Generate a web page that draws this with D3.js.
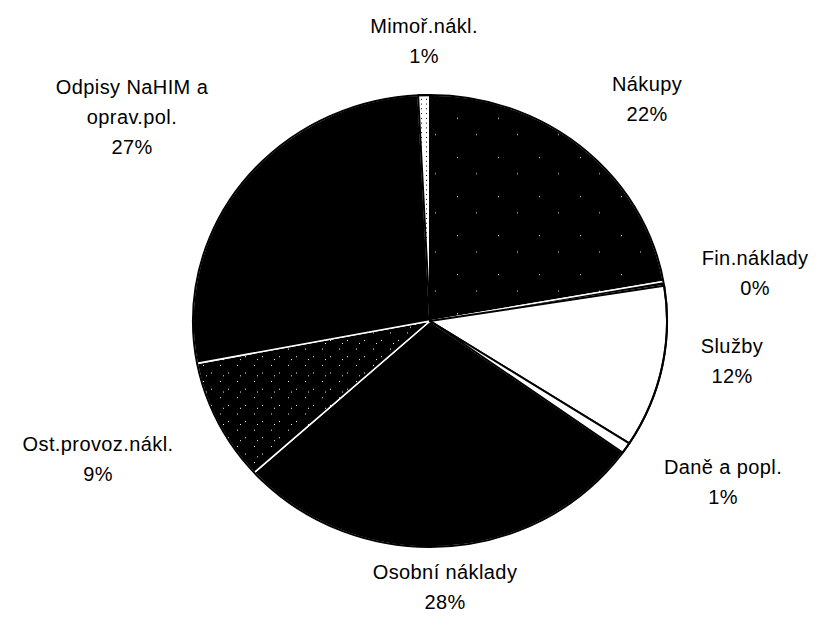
<!DOCTYPE html>
<html>
<head>
<meta charset="utf-8">
<style>
  body { margin: 0; background: #fff; }
  svg { display: block; }
</style>
</head>
<body>
<svg width="819" height="625"></svg>
<script src="https://d3js.org/d3.v7.min.js"></script>
<script>

// slices, clockwise from 12 o'clock (values in % of total costs)
var categories = ["Nákupy", "Fin.náklady", "Služby", "Daně a popl.", "Osobní náklady",
                  "Ost.provoz.nákl.", "Odpisy NaHIM a oprav.pol.", "Mimoř.nákl."];
var values = [22.2, 0.3, 11.6, 0.8, 28.4, 8.7, 27.2, 0.8];
var percentLabels = ["22%", "0%", "12%", "1%", "28%", "9%", "27%", "1%"];
var labelLines = [["Nákupy"], ["Fin.náklady"], ["Služby"], ["Daně a popl."], ["Osobní náklady"],
                  ["Ost.provoz.nákl."], ["Odpisy NaHIM a", "oprav.pol."], ["Mimoř.nákl."]];

var svg = d3.select("svg"),
    cx = 430, cy = 321,
    rx = 237, ry = 226;

// label anchors (centre of first line), layout only
var labelAt = [[647, 84], [755, 258], [732, 346], [723, 467], [445, 572],
               [98, 444], [132, 87], [424, 26]];
var lineStep = 30;

var fills = ["url(#sparse)", "#000", "#fff", "#fff", "#000", "url(#stipple)", "#000", "url(#light)"];

var defs = svg.append("defs");

function dotPattern(id, bg, dot, size, pts) {
  var p = defs.append("pattern")
      .attr("id", id)
      .attr("patternUnits", "userSpaceOnUse")
      .attr("width", size)
      .attr("height", size);
  p.append("rect").attr("width", size).attr("height", size).attr("fill", bg);
  pts.forEach(function(q) {
    p.append("rect").attr("x", q[0]).attr("y", q[1]).attr("width", 1).attr("height", 1).attr("fill", dot);
  });
}
dotPattern("sparse", "#000", "#fff", 41, [[5, 9], [27, 33]]);
dotPattern("stipple", "#000", "#fff", 17, [[2, 3], [11, 12], [14, 6]]);
dotPattern("light", "#fff", "#000", 5, [[1, 2]]);

var pie = d3.pie()
    .sort(null)
    .value(function(d) { return d; });

var arc = d3.arc()
    .innerRadius(0)
    .outerRadius(rx);

var arcs = pie(values);

var g = svg.append("g")
    .attr("transform", "translate(" + cx + "," + cy + ") scale(1," + (ry / rx) + ")");

function isLight(i) { return fills[i] === "#fff" || fills[i] === "url(#light)"; }

// dark slices first, light slices on top so their outlines show
var order = d3.range(arcs.length).sort(function(a, b) { return isLight(a) - isLight(b); });

g.selectAll("path")
  .data(order.map(function(i) { return arcs[i]; }))
  .enter().append("path")
    .attr("d", arc)
    .attr("fill", function(d) { return fills[d.index]; })
    .attr("stroke", function(d) { return isLight(d.index) ? "#000" : "#fff"; })
    .attr("stroke-width", function(d) { return isLight(d.index) ? 2 : 1.6; })
    .attr("stroke-linejoin", "round")
    .attr("vector-effect", "non-scaling-stroke");

// outer outline
g.append("path")
    .attr("d", d3.arc().innerRadius(rx).outerRadius(rx).startAngle(0).endAngle(2 * Math.PI)())
    .attr("fill", "none")
    .attr("stroke", "#000")
    .attr("stroke-width", 2)
    .attr("vector-effect", "non-scaling-stroke");

var labels = svg.append("g")
    .attr("font-family", "'Liberation Sans', Arial, sans-serif")
    .attr("font-size", 20)
    .attr("letter-spacing", 0.4)
    .attr("fill", "#000")
    .attr("text-anchor", "middle");

categories.forEach(function(c, i) {
  var lines = labelLines[i].concat([percentLabels[i]]);
  var t = labels.append("text");
  lines.forEach(function(s, k) {
    t.append("tspan")
      .attr("x", labelAt[i][0])
      .attr("y", labelAt[i][1] + k * lineStep)
      .attr("dy", "0.35em")
      .text(s);
  });
});

</script>
</body>
</html>
